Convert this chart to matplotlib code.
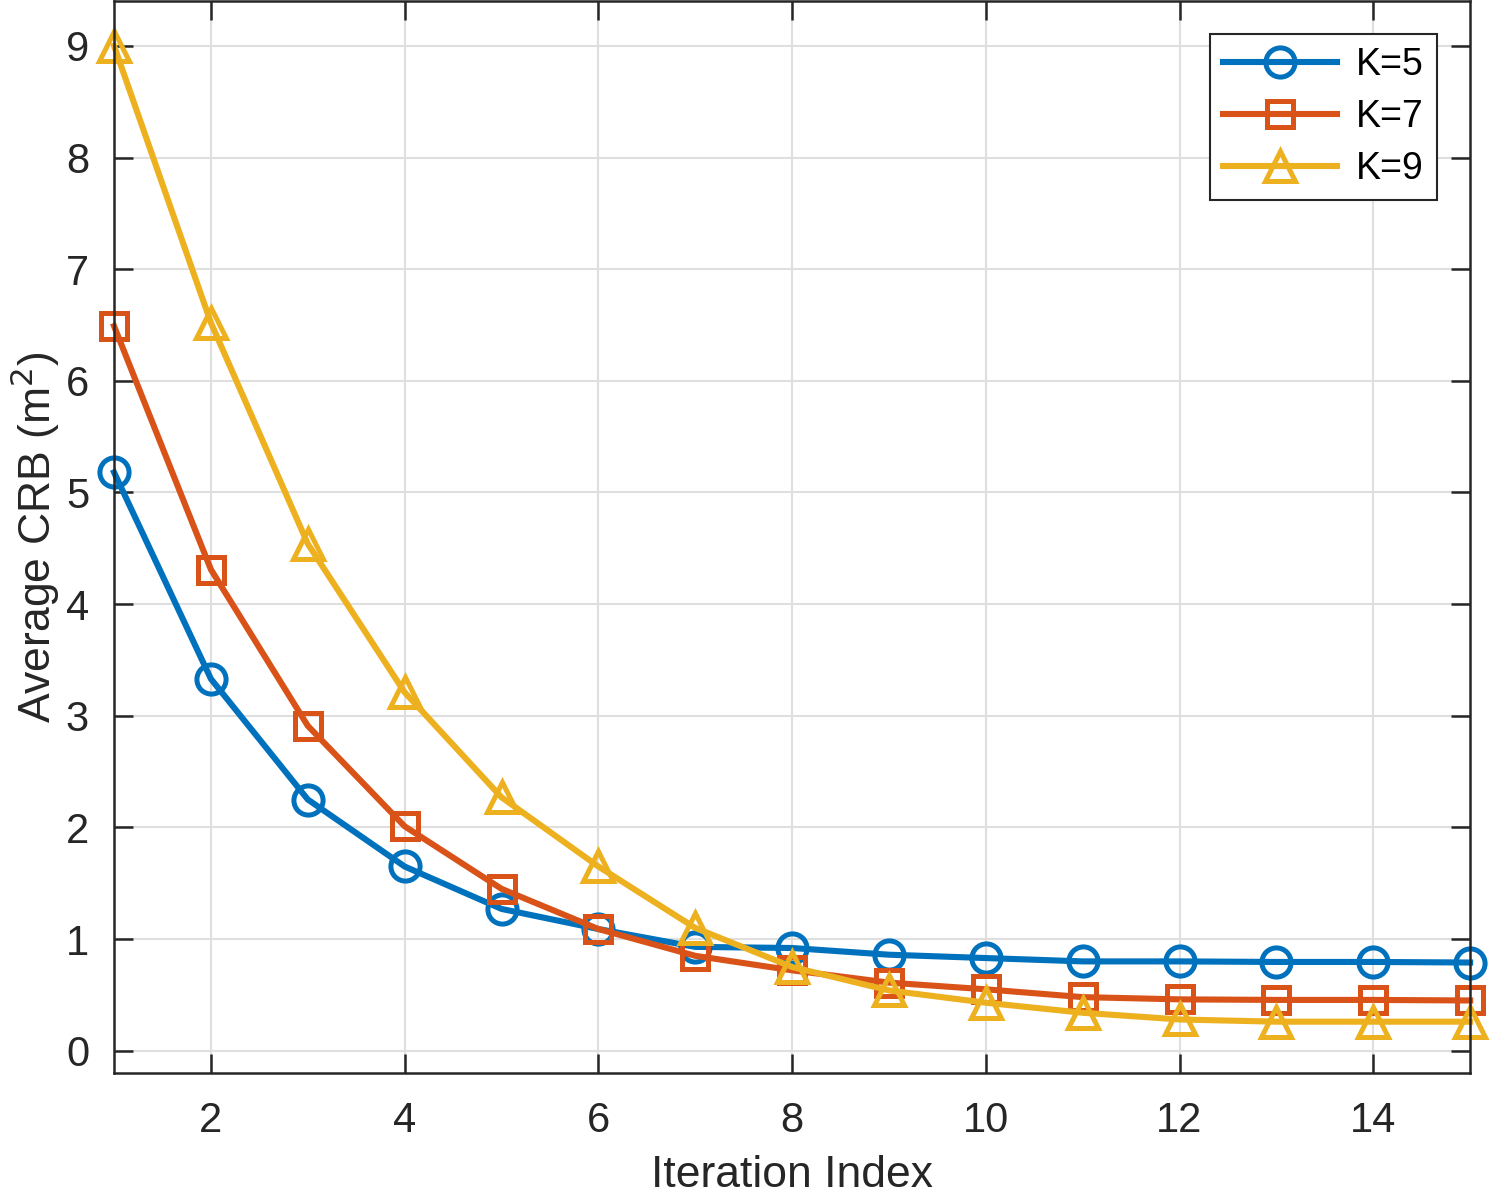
import matplotlib
matplotlib.use("Agg")
import matplotlib.pyplot as plt

iterations = list(range(1, 16))
k5 = [5.18, 3.33, 2.25, 1.65, 1.27, 1.09, 0.93, 0.92, 0.86, 0.83, 0.80, 0.80, 0.795, 0.795, 0.79]
k7 = [6.49, 4.31, 2.91, 2.01, 1.45, 1.09, 0.85, 0.72, 0.61, 0.55, 0.48, 0.46, 0.455, 0.455, 0.45]
k9 = [9.00, 6.52, 4.54, 3.21, 2.27, 1.65, 1.10, 0.75, 0.54, 0.43, 0.34, 0.28, 0.26, 0.26, 0.26]
labels = ["K=5", "K=7", "K=9"]
xticks = [2, 4, 6, 8, 10, 12, 14]
yticks = list(range(0, 10))

plt.rcParams['font.family'] = ['Liberation Sans', 'DejaVu Sans']
fig = plt.figure(figsize=(14.91, 11.96), dpi=100)
ax = fig.add_axes([0.0765, 0.1028, 0.9095, 0.8962])

dark = '#262626'
lw = 4.4
ms = 21
mew = 3.6
ax.plot(iterations, k5, color='#0072BD', lw=lw, marker='o', ms=ms, mfc='none', mew=mew, label=labels[0], clip_on=False)
ax.plot(iterations, k7, color='#D95319', lw=lw, marker='s', ms=ms * 0.9, mfc='none', mew=mew, label=labels[1], clip_on=False)
ax.plot(iterations, k9, color='#EDB120', lw=lw, marker='^', ms=ms * 1.05, mfc='none', mew=mew, label=labels[2], clip_on=False)

ax.set_xlim(1, 15)
ax.set_ylim(-0.2, 9.4)
ax.set_xticks(xticks)
ax.set_yticks(yticks)
ax.grid(True, color='#dfdfdf', lw=1.5)
ax.set_axisbelow(True)
for s in ax.spines.values():
    s.set_color(dark)
    s.set_linewidth(1.8)
ax.tick_params(direction='in', length=14, width=1.8, colors=dark, labelsize=30,
               top=True, right=True)
ax.tick_params(axis='x', pad=20)
ax.tick_params(axis='y', pad=18)

ax.set_xlabel('Iteration Index', fontsize=32, color=dark, labelpad=10)
ax.set_ylabel('Average CRB (m$^2$)', fontsize=32, color=dark, labelpad=3)

leg = ax.legend(loc='upper right', bbox_to_anchor=(1437 / 1491, 1 - 34 / 1196), bbox_transform=fig.transFigure,
                fontsize=27, frameon=True, fancybox=False, handlelength=3.05, borderpad=0.35,
                labelspacing=0.42, handletextpad=0.5, borderaxespad=0)
leg.get_frame().set_edgecolor(dark)
leg.get_frame().set_linewidth(1.5)
leg.get_frame().set_alpha(1)

fig.savefig('out.png', dpi=100)
